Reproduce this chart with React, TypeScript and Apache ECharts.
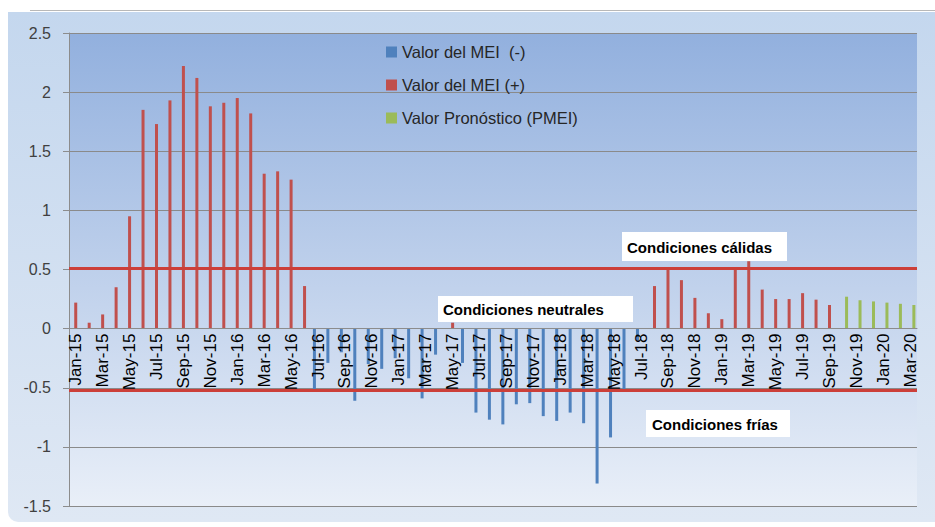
import React, { useEffect, useRef } from "react";
import * as echarts from "echarts";

const months = [
  "Jan-15","Feb-15","Mar-15","Apr-15","May-15","Jun-15","Jul-15","Aug-15","Sep-15","Oct-15","Nov-15","Dec-15",
  "Jan-16","Feb-16","Mar-16","Apr-16","May-16","Jun-16","Jul-16","Aug-16","Sep-16","Oct-16","Nov-16","Dec-16",
  "Jan-17","Feb-17","Mar-17","Apr-17","May-17","Jun-17","Jul-17","Aug-17","Sep-17","Oct-17","Nov-17","Dec-17",
  "Jan-18","Feb-18","Mar-18","Apr-18","May-18","Jun-18","Jul-18","Aug-18","Sep-18","Oct-18","Nov-18","Dec-18",
  "Jan-19","Feb-19","Mar-19","Apr-19","May-19","Jun-19","Jul-19","Aug-19","Sep-19","Oct-19","Nov-19","Dec-19",
  "Jan-20","Feb-20","Mar-20",
];

// MEI observed values, Jan-15 .. Sep-19
const meiValues = [
  0.22, 0.05, 0.12, 0.35, 0.95, 1.85, 1.73, 1.93, 2.22, 2.12, 1.88, 1.91,
  1.95, 1.82, 1.31, 1.33, 1.26, 0.36, -0.53, -0.29, -0.2, -0.61, -0.3, -0.34,
  -0.25, -0.42, -0.59, -0.22, 0.05, -0.29, -0.71, -0.77, -0.81, -0.64, -0.63, -0.74,
  -0.78, -0.71, -0.8, -1.31, -0.92, -0.53, -0.1, 0.36, 0.5, 0.41, 0.26, 0.13,
  0.08, 0.5, 0.57, 0.33, 0.25, 0.25, 0.3, 0.245, 0.2,
];

// PMEI forecast values, Oct-19 .. Mar-20
const pmeiValues = [0.27, 0.24, 0.23, 0.22, 0.21, 0.2];

const warmThreshold = 0.51;
const coldThreshold = -0.52;

const yMin = -1.5;
const yMax = 2.5;

const seriesNames = ["Valor del MEI  (-)", "Valor del MEI (+)", "Valor Pronóstico (PMEI)"];

export default function App() {
  const ref = useRef<HTMLDivElement>(null);

  useEffect(() => {
    if (!ref.current) return;
    const chart = echarts.init(ref.current, null, { renderer: "svg" });

    const neg = months.map((_, i) => (i < meiValues.length && meiValues[i] < 0 ? meiValues[i] : null));
    const pos = months.map((_, i) => (i < meiValues.length && meiValues[i] >= 0 ? meiValues[i] : null));
    const fc = months.map((_, i) => (i >= meiValues.length ? pmeiValues[i - meiValues.length] : null));

    const font = "'Liberation Sans', Arial, sans-serif";
    const gridTop = 33;
    const gridBottom = 21;
    const gridHeight = 527 - gridTop - gridBottom;
    // move the category axis from the grid's bottom to the value 0
    const zeroOffset = -(gridHeight * (0 - yMin)) / (yMax - yMin);

    chart.setOption({
      animation: false,
      backgroundColor: "transparent",
      textStyle: { fontFamily: font },
      grid: {
        left: 69,
        right: 18,
        top: gridTop,
        bottom: gridBottom,
        containLabel: false,
        outerBoundsMode: "none",
        show: true,
        borderWidth: 0,
        backgroundColor: new echarts.graphic.LinearGradient(0, 0, 0, 1, [
          { offset: 0, color: "#92b0de" },
          { offset: 1, color: "#e9eff8" },
        ]),
      },
      legend: {
        data: seriesNames,
        orient: "vertical",
        left: 381,
        top: 37,
        itemWidth: 11,
        itemHeight: 11,
        itemGap: 13,
        icon: "rect",
        textStyle: { fontSize: 16.5, color: "#262626", lineHeight: 20, fontFamily: font },
      },
      xAxis: {
        type: "category",
        data: months,
        position: "bottom",
        offset: zeroOffset,
        z: 10,
        axisLine: { onZero: false, lineStyle: { color: "#8c8c8c", width: 1 } },
        axisTick: { interval: 1, length: 5, lineStyle: { color: "#8c8c8c" } },
        axisLabel: { interval: 1, rotate: 90, fontSize: 17, color: "#000", margin: 5, fontFamily: font },
        splitLine: { show: false },
      },
      yAxis: {
        type: "value",
        min: yMin,
        max: yMax,
        interval: 0.5,
        axisLine: { show: true, lineStyle: { color: "#8c8c8c" } },
        axisTick: { show: true, length: 6, lineStyle: { color: "#8c8c8c" } },
        axisLabel: { fontSize: 16, color: "#404040", margin: 18, fontFamily: font },
        splitLine: { lineStyle: { color: "#8a8a8a", width: 1 } },
      },
      series: [
        {
          name: seriesNames[0],
          type: "bar",
          data: neg,
          barWidth: 3,
          barGap: "20%",
          itemStyle: { color: "#4f81bd" },
        },
        {
          name: seriesNames[1],
          type: "bar",
          data: pos,
          barWidth: 3,
          barGap: "20%",
          itemStyle: { color: "#c0504d" },
          markLine: {
            silent: true,
            symbol: ["none", "none"],
            label: { show: false },
            lineStyle: { color: "#cc3f39", width: 3, type: "solid" },
            data: [{ yAxis: warmThreshold }, { yAxis: coldThreshold }],
          },
        },
        {
          name: seriesNames[2],
          type: "bar",
          data: fc,
          barWidth: 3,
          barGap: "20%",
          itemStyle: { color: "#9bbb59" },
        },
      ],
      graphic: [
        { type: "rect", z: 100, shape: { x: 622, y: 232, width: 165, height: 29 }, style: { fill: "#ffffff" } },
        { type: "text", z: 101, x: 627, y: 247, style: { text: "Condiciones cálidas", font: `bold 15px ${font}`, fill: "#000", verticalAlign: "middle" } },
        { type: "rect", z: 100, shape: { x: 438, y: 296, width: 195, height: 26 }, style: { fill: "#ffffff" } },
        { type: "text", z: 101, x: 443, y: 309, style: { text: "Condiciones neutrales", font: `bold 15px ${font}`, fill: "#000", verticalAlign: "middle" } },
        { type: "rect", z: 100, shape: { x: 646, y: 410, width: 144, height: 27 }, style: { fill: "#ffffff" } },
        { type: "text", z: 101, x: 652, y: 424, style: { text: "Condiciones frías", font: `bold 15px ${font}`, fill: "#000", verticalAlign: "middle" } },
      ],
    });

    return () => chart.dispose();
  }, []);

  return (
    <div style={{ position: "fixed", left: 0, top: 0, width: 935, height: 527, background: "#ffffff", overflow: "hidden" }}>
      <div style={{ position: "absolute", left: 30, top: 10, width: 905, height: 1, background: "#b8b8b8" }} />
      <div
        style={{
          position: "absolute",
          left: 8,
          top: 12,
          width: 927,
          height: 510,
          background: "linear-gradient(#c4d7ee, #dfe8f4)",
          borderBottomLeftRadius: 10,
        }}
      />
      <div ref={ref} style={{ position: "absolute", left: 0, top: 0, width: 935, height: 527 }} />
    </div>
  );
}
